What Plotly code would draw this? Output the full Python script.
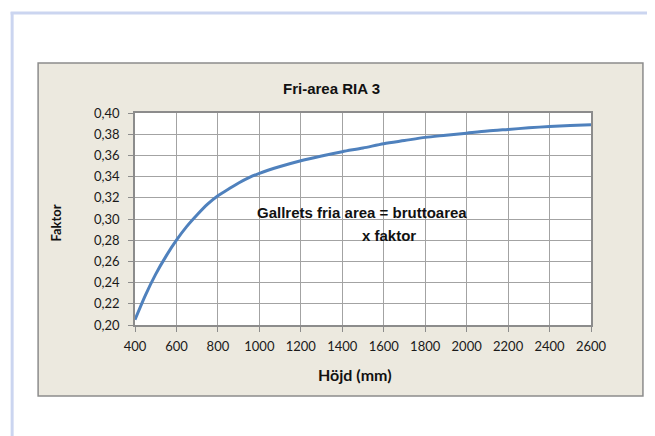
import plotly.graph_objects as go

# Data
hojd = [400, 450, 500, 550, 600, 650, 700, 750, 800, 850, 900, 950, 1000, 1100, 1200,
        1300, 1400, 1500, 1600, 1700, 1800, 1900, 2000, 2100, 2200, 2300, 2400, 2500, 2600]
faktor = [0.205, 0.228, 0.248, 0.265, 0.280, 0.293, 0.304, 0.314, 0.322, 0.328, 0.334,
          0.339, 0.343, 0.3495, 0.355, 0.3595, 0.3635, 0.367, 0.371, 0.374, 0.377, 0.379,
          0.381, 0.383, 0.3845, 0.386, 0.3873, 0.3883, 0.389]
x_ticks = list(range(400, 2601, 200))
y_ticks = [0.20, 0.22, 0.24, 0.26, 0.28, 0.30, 0.32, 0.34, 0.36, 0.38, 0.40]

OFF = 8  # page body margin
W_FIG, H_FIG = 655 - OFF, 436 - OFF
L, R, T, B = 134.5 - OFF, 591 - OFF, 113 - OFF, 325 - OFF
PW, PH = R - L, B - T


def px(x):
    return (x - OFF - L) / PW


def py(y):
    return (B - (y - OFF)) / PH


fig = go.Figure()
fig.add_trace(go.Scatter(
    x=hojd, y=faktor, mode="lines",
    line=dict(color="#4F81BD", width=3, shape="spline", smoothing=0.8),
    hoverinfo="skip", showlegend=False,
))

grid = "#A3A3A3"
axis_common = dict(
    showgrid=True, gridcolor=grid, gridwidth=1.2,
    showline=True, linecolor="#8C8C8C", linewidth=1.5, mirror=True,
    ticks="outside", ticklen=5, tickcolor="#8C8C8C", tickwidth=1.2,
    zeroline=False,
    tickfont=dict(family="Lato, Open Sans, sans-serif", size=13, color="#1a1a1a"),
)

fig.update_xaxes(range=[400, 2600], tickvals=x_ticks, ticktext=[str(v) for v in x_ticks],
                 ticklabelstandoff=4, **axis_common)
fig.update_yaxes(range=[0.20, 0.40], tickvals=y_ticks,
                 ticktext=[f"{v:.2f}".replace(".", ",") for v in y_ticks],
                 ticklabelstandoff=6, **axis_common)

shapes = [
    # chart area box
    dict(type="rect", xref="paper", yref="paper", layer="below",
         x0=px(37.5), x1=px(643), y0=py(396), y1=py(63),
         fillcolor="#ECE9DF", line=dict(color="#8C8C8C", width=1.5)),
    # plot area white
    dict(type="rect", xref="paper", yref="paper", layer="below",
         x0=0, x1=1, y0=0, y1=1, fillcolor="white", line=dict(width=0)),
    # lavender frame lines
    dict(type="line", xref="paper", yref="paper", layer="below",
         x0=px(11.5), x1=px(11.5), y0=py(12), y1=py(440),
         line=dict(color="#CBD5F0", width=3)),
    dict(type="line", xref="paper", yref="paper", layer="below",
         x0=px(10), x1=px(660), y0=py(13), y1=py(13),
         line=dict(color="#CBD5F0", width=3)),
]

bold_sans = "Liberation Sans, Arial, sans-serif"
annotations = [
    dict(text="<b>Fri-area RIA 3</b>", xref="paper", yref="paper",
         x=px(331), y=py(88), showarrow=False, xanchor="center", yanchor="middle",
         font=dict(family=bold_sans, size=15, color="#111")),
    dict(text="<b>Gallrets fria area = bruttoarea</b>", xref="paper", yref="paper",
         x=px(362), y=py(212), showarrow=False, xanchor="center", yanchor="middle",
         font=dict(family=bold_sans, size=15, color="#111")),
    dict(text="<b>x faktor</b>", xref="paper", yref="paper",
         x=px(389), y=py(235), showarrow=False, xanchor="center", yanchor="middle",
         font=dict(family=bold_sans, size=15, color="#111")),
    dict(text="<b>Höjd (mm)</b>", xref="paper", yref="paper",
         x=px(355), y=py(374), showarrow=False, xanchor="center", yanchor="middle",
         font=dict(family="Lato, Open Sans, sans-serif", size=16, color="#111")),
    dict(text="<b>Faktor</b>", xref="paper", yref="paper", textangle=-90,
         x=px(55), y=py(223), showarrow=False, xanchor="center", yanchor="middle",
         font=dict(family="Lato, Open Sans, sans-serif", size=13, color="#111")),
]

fig.update_layout(
    width=W_FIG, height=H_FIG,
    margin=dict(l=L, r=W_FIG - R, t=T, b=H_FIG - B, pad=0),
    paper_bgcolor="white", plot_bgcolor="white",
    shapes=shapes, annotations=annotations,
    showlegend=False,
)

fig.write_html("out.html")
